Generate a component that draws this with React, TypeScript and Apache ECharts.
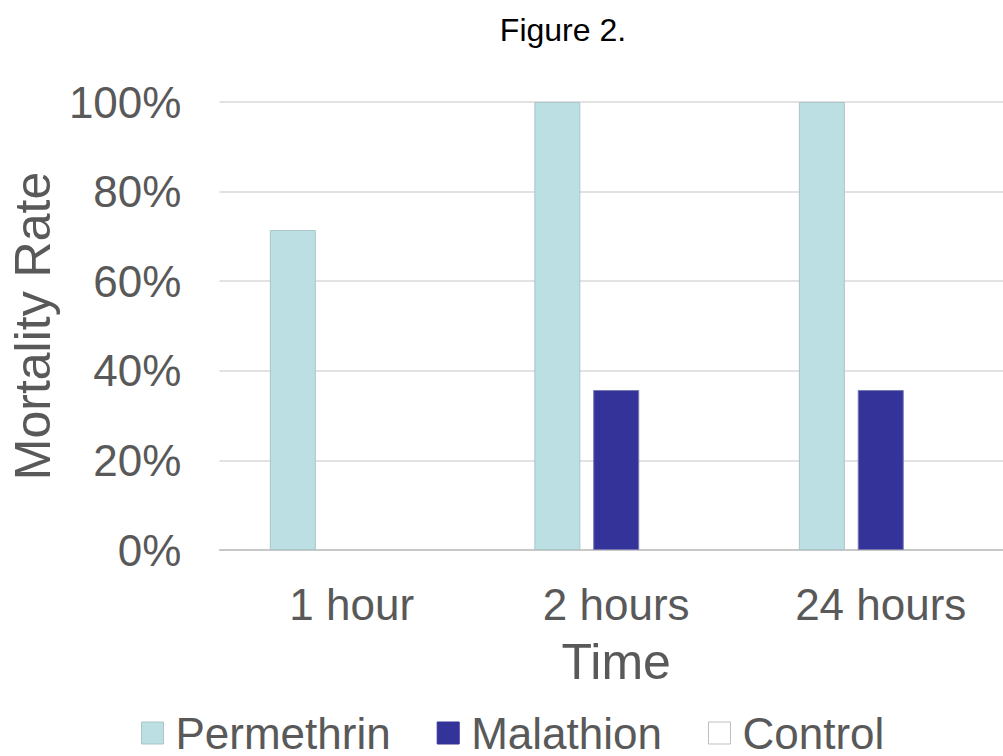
import React, { useEffect, useRef } from "react";
import * as echarts from "echarts";

const categories = ["1 hour", "2 hours", "24 hours"];
const permethrin = [71.43, 100, 100];
const malathion = [0, 35.71, 35.71];
const control = [0, 0, 0];
const seriesNames = ["Permethrin", "Malathion", "Control"];

export default function App() {
  const ref = useRef<HTMLDivElement>(null);
  useEffect(() => {
    const chart = echarts.init(ref.current!, null, { renderer: "svg" });
    const font = "'Liberation Sans', Arial, sans-serif";
    const txt = "#595959";
    const withBorder = (vals: number[], bw: number) =>
      vals.map((v) => ({ value: v, itemStyle: { borderWidth: v === 0 ? 0 : bw } }));
    chart.setOption({
      animation: false,
      grid: { left: 218, right: 0, top: 102, bottom: 206, containLabel: false },
      graphic: [
        {
          type: "text",
          x: 563,
          y: 30,
          style: { text: "Figure 2.", font: `32px ${font}`, fill: "#000", align: "center", verticalAlign: "middle" },
        },
      ],
      legend: {
        top: 706,
        left: 141,
        padding: 0,
        icon: "rect",
        itemWidth: 22,
        itemHeight: 22,
        itemGap: 46,
        textStyle: { fontSize: 44, lineHeight: 44, color: txt, fontFamily: font, padding: [0, 0, 10, 7] },
        data: [
          { name: seriesNames[0], itemStyle: { color: "#BBDFE2", borderColor: "#A9C6C8", borderWidth: 1 } },
          { name: seriesNames[1], itemStyle: { color: "#333399", borderColor: "#333399", borderWidth: 1 } },
          { name: seriesNames[2], itemStyle: { color: "#FFFFFF", borderColor: "#BFBFBF", borderWidth: 1 } },
        ],
      },
      xAxis: {
        type: "category",
        data: categories,
        name: "Time",
        nameLocation: "middle",
        nameGap: 87,
        nameTextStyle: { fontSize: 50, color: txt, fontFamily: font, verticalAlign: "top" },
        axisLine: { lineStyle: { color: "#BFBFBF", width: 1.5 } },
        axisTick: { show: false },
        axisLabel: { fontSize: 44, color: txt, fontFamily: font, margin: 32 },
      },
      yAxis: {
        type: "value",
        min: 0,
        max: 100,
        interval: 20,
        name: "Mortality Rate",
        nameLocation: "middle",
        nameGap: 158,
        nameTextStyle: { fontSize: 50, color: txt, fontFamily: font },
        axisLine: { show: false },
        axisTick: { show: false },
        axisLabel: { fontSize: 44, color: txt, fontFamily: font, margin: 38, formatter: "{value}%" },
        splitLine: { lineStyle: { color: "#D9D9D9", width: 1.5 } },
      },
      series: [
        {
          name: seriesNames[0],
          type: "bar",
          data: withBorder(permethrin, 1),
          barWidth: 46,
          barGap: "28%",
          itemStyle: { color: "#BBDFE2", borderColor: "#A9C6C8", borderWidth: 1 },
        },
        {
          name: seriesNames[1],
          type: "bar",
          data: withBorder(malathion, 1),
          barWidth: 46,
          barGap: "28%",
          itemStyle: { color: "#333399", borderColor: "#7878B0", borderWidth: 1 },
        },
        {
          name: seriesNames[2],
          type: "bar",
          data: withBorder(control, 1),
          barWidth: 46,
          barGap: "28%",
          itemStyle: { color: "#FFFFFF", borderColor: "#BFBFBF", borderWidth: 1 },
        },
      ],
    });
    return () => chart.dispose();
  }, []);
  return (
    <div style={{ position: "absolute", left: 0, top: 0, width: 1003, height: 756, overflow: "hidden" }}>
      <div ref={ref} style={{ width: 1013, height: 756 }} />
    </div>
  );
}
